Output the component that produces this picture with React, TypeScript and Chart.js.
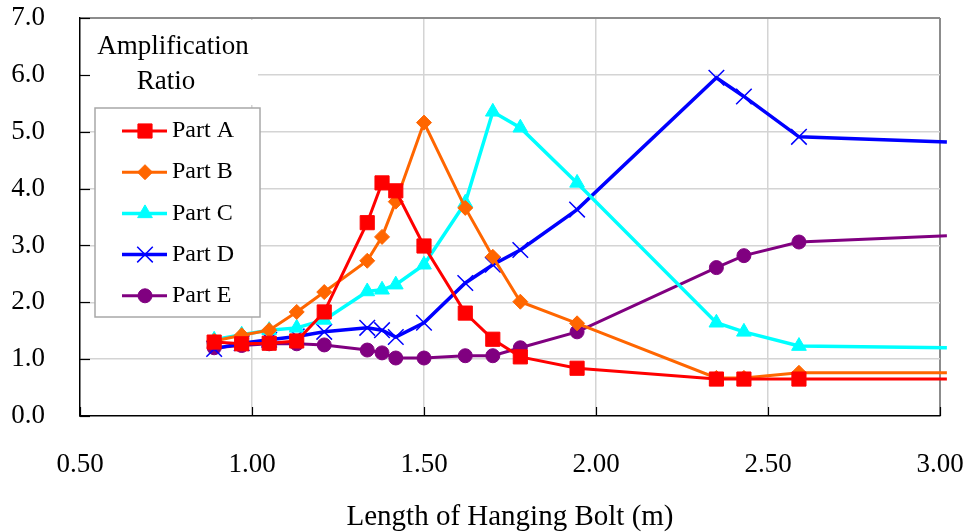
import React, { useEffect, useRef } from "react";
import { Chart, registerables } from "chart.js";
import { drawPoint } from "chart.js/helpers";

Chart.register(...registerables);

const xValues = [0.89, 0.97, 1.05, 1.13, 1.21, 1.335, 1.378, 1.418, 1.5, 1.62, 1.7, 1.78, 1.945, 2.35, 2.43, 2.59, 3.02];
const partA = [1.3, 1.27, 1.28, 1.32, 1.83, 3.4, 4.1, 3.96, 2.99, 1.81, 1.35, 1.04, 0.84, 0.65, 0.65, 0.65, 0.65];
const partB = [1.32, 1.42, 1.51, 1.83, 2.18, 2.73, 3.15, 3.77, 5.16, 3.66, 2.8, 2.01, 1.63, 0.67, 0.67, 0.76, 0.76];
const partC = [1.34, 1.43, 1.51, 1.55, 1.69, 2.19, 2.22, 2.31, 2.66, 3.75, 5.35, 5.07, 4.1, 1.64, 1.48, 1.23, 1.2];
const partD = [1.18, 1.28, 1.34, 1.4, 1.48, 1.55, 1.51, 1.39, 1.64, 2.34, 2.66, 2.92, 3.63, 5.95, 5.62, 4.91, 4.82];
const partE = [1.2, 1.24, 1.27, 1.27, 1.25, 1.16, 1.11, 1.02, 1.02, 1.06, 1.06, 1.2, 1.48, 2.61, 2.82, 3.06, 3.17];

const seriesNames = ["Part A", "Part B", "Part C", "Part D", "Part E"];
const seriesValues = [partA, partB, partC, partD, partE];
const seriesColors = ["#FF0000", "#FF6600", "#00FFFF", "#0000FF", "#800080"];
const seriesStyles = ["rect", "rectRot", "triangle", "crossRot", "circle"];
const seriesRadius = [10, 7.5, 8.5, 11, 7];
const seriesLineWidth = [3, 3, 3.5, 3.5, 3];
const seriesPointBorder = [1, 1, 1, 1.5, 1];

const yTitleLines = ["Amplification", "Ratio"];
const xTitle = "Length of Hanging Bolt (m)";

const FONT = "'Liberation Serif', 'DejaVu Serif', serif";

const zeroPad = (s: any) => {
  s.paddingTop = 0;
  s.paddingBottom = 0;
  s.paddingLeft = 0;
  s.paddingRight = 0;
};

const decorPlugin = {
  id: "decor",
  beforeDatasetsDraw(chart: any) {
    const { ctx, chartArea } = chart;
    ctx.save();
    ctx.fillStyle = "#FFFFFF";
    ctx.fillRect(chartArea.left + 1, chartArea.top + 2, 177, 85);
    ctx.fillStyle = "#000000";
    ctx.font = `27px ${FONT}`;
    ctx.textAlign = "center";
    ctx.textBaseline = "middle";
    ctx.fillText(yTitleLines[0], chartArea.left + 93, chartArea.top + 29);
    ctx.fillText(yTitleLines[1], chartArea.left + 86, chartArea.top + 64);
    ctx.restore();
  },
  afterDraw(chart: any) {
    const { ctx, chartArea, scales } = chart;
    ctx.save();
    ctx.strokeStyle = "#000000";
    ctx.lineWidth = 1.2;
    scales.y.ticks.forEach((t: any) => {
      const py = Math.round(scales.y.getPixelForValue(t.value)) + 0.5;
      ctx.beginPath();
      ctx.moveTo(chartArea.left, py);
      ctx.lineTo(chartArea.left + 10, py);
      ctx.stroke();
    });
    scales.x.ticks.forEach((t: any) => {
      const px = Math.round(scales.x.getPixelForValue(t.value)) + 0.5;
      ctx.beginPath();
      ctx.moveTo(px, chartArea.bottom);
      ctx.lineTo(px, chartArea.bottom - 9);
      ctx.stroke();
    });
    const lx = chartArea.left + 15;
    const ly = chartArea.top + 90;
    const lw = 165;
    const lh = 209;
    ctx.fillStyle = "#FFFFFF";
    ctx.fillRect(lx, ly, lw, lh);
    ctx.strokeStyle = "#A8A8A8";
    ctx.lineWidth = 1.5;
    ctx.strokeRect(lx, ly, lw, lh);
    seriesNames.forEach((name, i) => {
      const rowY = ly + 23 + i * 41.2;
      ctx.strokeStyle = seriesColors[i];
      ctx.fillStyle = seriesColors[i];
      ctx.lineWidth = seriesLineWidth[i];
      ctx.beginPath();
      ctx.moveTo(lx + 27, rowY);
      ctx.lineTo(lx + 72, rowY);
      ctx.stroke();
      ctx.lineWidth = seriesPointBorder[i];
      drawPoint(ctx, {
        pointStyle: seriesStyles[i],
        rotation: 0,
        radius: seriesRadius[i],
        borderWidth: seriesPointBorder[i],
      } as any, lx + 50, rowY);
      ctx.fillStyle = "#000000";
      ctx.font = `24px ${FONT}`;
      ctx.textAlign = "left";
      ctx.textBaseline = "middle";
      ctx.fillText(name, lx + 77, rowY);
    });
    ctx.restore();
  },
};

export default function App() {
  const canvasRef = useRef<HTMLCanvasElement | null>(null);

  useEffect(() => {
    if (!canvasRef.current) return;
    const datasets = seriesNames.map((name, i) => ({
      label: name,
      data: xValues.map((x, j) => ({ x, y: seriesValues[i][j] })),
      borderColor: seriesColors[i],
      backgroundColor: seriesColors[i],
      borderWidth: seriesLineWidth[i],
      pointStyle: seriesStyles[i] as any,
      pointRadius: (c: any) => (c.parsed && c.parsed.x > 3 ? 0 : seriesRadius[i]),
      pointBorderWidth: seriesPointBorder[i],
      pointBorderColor: seriesColors[i],
      pointBackgroundColor: seriesColors[i],
      tension: 0,
      clip: false as any,
    }));

    const chart = new Chart(canvasRef.current, {
      type: "line",
      data: { datasets },
      plugins: [decorPlugin],
      options: {
        animation: false,
        responsive: false,
        maintainAspectRatio: false,
        layout: { padding: { top: 18, right: 23, left: 0, bottom: 0 } },
        plugins: { legend: { display: false }, tooltip: { enabled: false } },
        scales: {
          x: {
            type: "linear",
            min: 0.5,
            max: 3.0,
            afterFit: (s: any) => {
              s.height = 116;
              zeroPad(s);
            },
            ticks: {
              stepSize: 0.5,
              color: "#000000",
              font: { family: FONT, size: 27 },
              padding: 33,
              callback: (v: any) => Number(v).toFixed(2),
            },
            grid: {
              drawTicks: false,
              color: (c: any) =>
                c.tick && Math.abs(c.tick.value - 0.5) < 1e-6
                  ? "rgba(0,0,0,0)"
                  : c.tick && Math.abs(c.tick.value - 3) < 1e-6
                  ? "#8C8C8C"
                  : "#D4D4D4",
              lineWidth: (c: any) => (c.tick && Math.abs(c.tick.value - 3) < 1e-6 ? 2 : 1.5),
            },
            border: { display: true, color: "#000000", width: 1.5 },
            title: {
              display: true,
              text: xTitle,
              color: "#000000",
              font: { family: FONT, size: 29, lineHeight: 1 },
              padding: { top: 0, bottom: 0 },
            },
          },
          y: {
            type: "linear",
            min: 0,
            max: 7,
            afterFit: (s: any) => {
              s.width = 80;
              zeroPad(s);
            },
            ticks: {
              stepSize: 1,
              color: "#000000",
              font: { family: FONT, size: 27 },
              padding: 35,
              callback: (v: any) => Number(v).toFixed(1),
            },
            grid: {
              drawTicks: false,
              color: (c: any) =>
                c.tick && c.tick.value === 0
                  ? "rgba(0,0,0,0)"
                  : c.tick && c.tick.value === 7
                  ? "#8C8C8C"
                  : "#D4D4D4",
              lineWidth: (c: any) => (c.tick && c.tick.value === 7 ? 2 : 1.5),
            },
            border: { display: true, color: "#000000", width: 1.5 },
          },
        },
      },
    });
    return () => chart.destroy();
  }, []);

  return (
    <div style={{ position: "fixed", left: 0, top: 0, width: 963, height: 532, background: "#FFFFFF" }}>
      <canvas ref={canvasRef} width={963} height={532} style={{ width: 963, height: 532, display: "block" }} />
    </div>
  );
}
